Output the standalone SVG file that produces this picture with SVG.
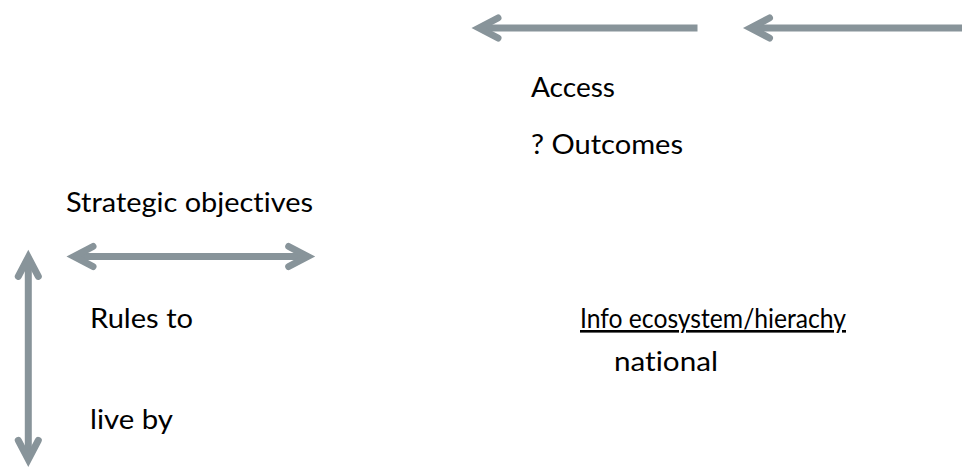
<svg xmlns="http://www.w3.org/2000/svg" width="962" height="468" viewBox="0 0 962 468">
<style>
.ln{stroke:#88949A;stroke-width:7;fill:none}
.hd{stroke:#88949A;stroke-width:7;fill:none;stroke-linecap:round;stroke-linejoin:miter}
.t{font-family:Lato,"Open Sans",sans-serif;font-size:27px;fill:#000;font-variant-ligatures:none}
</style>
<defs>
<path id="head" class="hd" d="M19 -10 L0 0 L19 10"/>
</defs>
<rect width="962" height="468" fill="#fff"/>
<g id="connectors">
<g id="arrow-top-left"><line class="ln" x1="697.5" y1="28" x2="481" y2="28"/><use href="#head" transform="translate(479,28)"/></g>
<g id="arrow-top-right"><line class="ln" x1="962" y1="28" x2="752" y2="28"/><use href="#head" transform="translate(750.5,28)"/></g>
<g id="arrow-horizontal"><line class="ln" x1="75" y1="256.5" x2="306.5" y2="256.5"/><use href="#head" transform="translate(74,256.5)"/><use href="#head" transform="translate(307.7,256.5) rotate(180)"/></g>
<g id="arrow-vertical"><line class="ln" x1="28.3" y1="258" x2="28.3" y2="458.5"/><use href="#head" transform="translate(28.3,257.3) rotate(90)"/><use href="#head" transform="translate(28.3,459.4) rotate(-90)"/></g>
</g>
<g id="access"><text class="t" x="531" y="97" textLength="84" lengthAdjust="spacingAndGlyphs">Access</text></g>
<g id="outcomes"><text class="t" x="531" y="154" textLength="152" lengthAdjust="spacingAndGlyphs">? Outcomes</text></g>
<g id="strategic"><text class="t" x="66" y="212" textLength="247" lengthAdjust="spacingAndGlyphs">Strategic objectives</text></g>
<g id="rules"><text class="t" x="90" y="328" textLength="103" lengthAdjust="spacingAndGlyphs">Rules to</text><text class="t" x="90" y="429" textLength="83" lengthAdjust="spacingAndGlyphs">live by</text></g>
<g id="info"><text class="t" x="580" y="328" style="font-size:26px" text-decoration="underline" textLength="266" lengthAdjust="spacingAndGlyphs">Info ecosystem/hierachy</text><text class="t" x="614" y="371" textLength="104" lengthAdjust="spacingAndGlyphs">national</text></g>
</svg>
